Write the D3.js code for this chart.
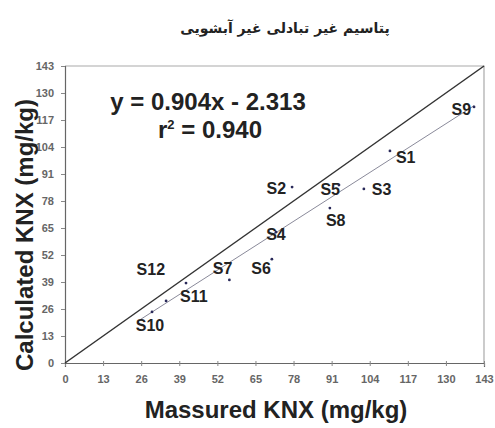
<!DOCTYPE html>
<html>
<head>
<meta charset="utf-8">
<script src="https://cdn.jsdelivr.net/npm/d3@7"></script>
<style>
  html, body { margin: 0; padding: 0; background: #fff; }
  svg { display: block; }
  text { font-family: "Liberation Sans", Arial, sans-serif; }
</style>
</head>
<body>
<svg id="chart" width="495" height="428"></svg>
<script>
// Sample data: measured vs. calculated non-exchangeable K (mg/kg)
const samples = ["S1","S2","S3","S4","S5","S6","S7","S8","S9","S10","S11","S12"];
const measured   = [110.9, 77.5, 102.0, 72.0, 93.5, 70.6, 56.1, 90.4, 139.6, 29.7, 41.3, 34.5];
const calculated = [102.1, 84.7,  83.8, 63.0, 85.7, 50.0, 40.0, 74.6, 123.3, 24.6, 38.5, 29.9];
const tickValues = [0, 13, 26, 39, 52, 65, 78, 91, 104, 117, 130, 143];
const slope = 0.904, intercept = -2.313, r2 = 0.940;

// label placement relative to each point: [dx, dy (baseline), anchor]
const labelOffsets = [
  [6, 12, "start"], [-6, 7, "end"], [8, 6, "start"], [0, 8, "middle"],
  [1, 10, "end"], [-1, 15, "end"], [3, -6, "end"], [-4, 18, "start"],
  [-3, 8, "end"], [-2, 19, "middle"], [-6, 19, "start"], [-1, -26, "end"]
];

const svg = d3.select("#chart");
const x = d3.scaleLinear().domain([0, 143]).range([65, 484]);
const y = d3.scaleLinear().domain([0, 143]).range([363, 66]);

// Title
svg.append("text")
  .attr("x", 285).attr("y", 33)
  .attr("text-anchor", "middle")
  .attr("direction", "rtl")
  .style("font-family", "'DejaVu Sans', sans-serif")
  .style("font-weight", "bold")
  .style("font-size", "14px")
  .attr("fill", "#222")
  .text("پتاسیم غیر تبادلی غیر آبشویی");

// Plot frame (top and right edges)
svg.append("path")
  .attr("d", `M${x(0)},${y(143)}H${x(143)}V${y(0)}`)
  .attr("fill", "none").attr("stroke", "#aaa").attr("stroke-width", 1.2);

// Axes
const xAxis = d3.axisBottom(x).tickValues(tickValues).tickSize(4).tickPadding(8);
const yAxis = d3.axisLeft(y).tickValues(tickValues).tickSize(4).tickPadding(7);

const gx = svg.append("g").attr("transform", `translate(0,${y(0)})`).call(xAxis);
const gy = svg.append("g").attr("transform", `translate(${x(0)},0)`).call(yAxis);
[gx, gy].forEach(g => {
  g.select(".domain").attr("stroke", "#666").attr("stroke-width", 1.2);
  g.selectAll(".tick line").attr("stroke", "#888");
  g.selectAll(".tick text")
    .attr("fill", "#666")
    .style("font-size", "11px")
    .style("font-weight", "bold");
});
gx.selectAll(".tick line").attr("y1", -2).attr("y2", 3);

// 1:1 line
svg.append("line")
  .attr("x1", x(0)).attr("y1", y(0))
  .attr("x2", x(143)).attr("y2", y(143))
  .attr("stroke", "#333").attr("stroke-width", 1.5);

// Regression line over the data range
const xMin = d3.min(measured), xMax = d3.max(measured);
svg.append("line")
  .attr("x1", x(xMin - 4)).attr("y1", y(slope * (xMin - 4) + intercept))
  .attr("x2", x(xMax)).attr("y2", y(slope * xMax + intercept))
  .attr("stroke", "#8a8a9a").attr("stroke-width", 1);

// Points
const data = samples.map((s, i) => ({ s, mx: measured[i], cy: calculated[i], off: labelOffsets[i] }));
svg.append("g").selectAll("circle").data(data).join("circle")
  .attr("cx", d => x(d.mx)).attr("cy", d => y(d.cy))
  .attr("r", 1.4).attr("fill", "#2a2a5a");

// Point labels
svg.append("g").selectAll("text").data(data).join("text")
  .attr("x", d => x(d.mx) + d.off[0])
  .attr("y", d => y(d.cy) + d.off[1])
  .attr("text-anchor", d => d.off[2])
  .style("font-size", "16px").style("font-weight", "bold")
  .attr("fill", "#222")
  .text(d => d.s);

// Equation
svg.append("text")
  .attr("x", 208).attr("y", 110)
  .attr("text-anchor", "middle")
  .style("font-size", "24px").style("font-weight", "bold")
  .attr("fill", "#222")
  .text(`y = ${slope.toFixed(3)}x - ${Math.abs(intercept).toFixed(3)}`);
const r2Text = svg.append("text")
  .attr("x", 210).attr("y", 138)
  .attr("text-anchor", "middle")
  .style("font-size", "24px").style("font-weight", "bold")
  .attr("fill", "#222");
r2Text.append("tspan").text("r");
r2Text.append("tspan").attr("dy", -9).style("font-size", "13px").text("2");
r2Text.append("tspan").attr("dy", 9).text(` = ${r2.toFixed(3)}`);

// Axis titles
svg.append("text")
  .attr("x", 276).attr("y", 418)
  .attr("text-anchor", "middle")
  .style("font-size", "24px").style("font-weight", "bold")
  .attr("fill", "#222")
  .text("Massured KNX (mg/kg)");
svg.append("text")
  .attr("transform", "translate(33,235) rotate(-90)")
  .attr("text-anchor", "middle")
  .style("font-size", "24px").style("font-weight", "bold")
  .attr("fill", "#222")
  .text("Calculated KNX (mg/kg)");
</script>
</body>
</html>
